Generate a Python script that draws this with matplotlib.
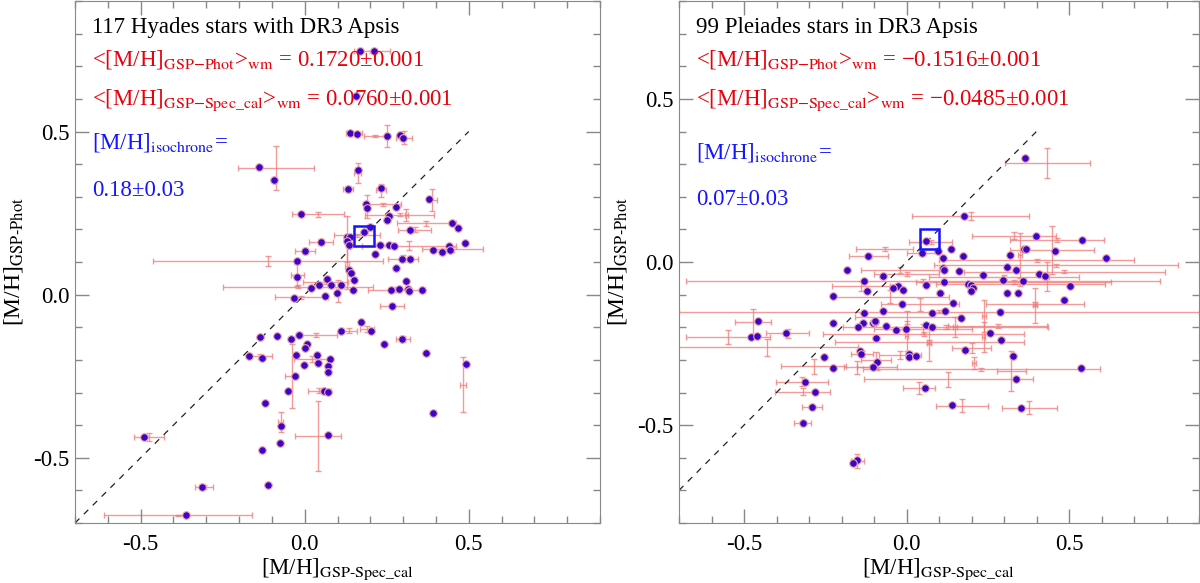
import matplotlib
matplotlib.use("Agg")
import numpy as np
import matplotlib.pyplot as plt
from matplotlib.patches import Rectangle

# ---------------- Hyades (left panel) ----------------
hy_x = [0.170, 0.210, 0.155, 0.139, 0.160, 0.252, 0.290, 0.299, -0.140, -0.094, 0.161,
        0.131, 0.233, 0.379, 0.188, 0.189, 0.279, 0.256, 0.250, -0.010, 0.450, 0.466,
        0.320, 0.200, 0.180, 0.129, 0.139, 0.128, 0.135, 0.051, 0.000, 0.230, 0.257,
        0.272, 0.490, 0.390, 0.419, 0.439, 0.443, 0.213, -0.023, 0.298, 0.320, 0.279,
        -0.022, 0.136, 0.140, 0.149, 0.308, 0.044, 0.067, 0.020, 0.080, 0.110, 0.099,
        0.147, 0.263, 0.286, 0.315, 0.319, 0.359, 0.063, -0.032, 0.266,
        0.171, 0.202, 0.111, 0.298, 0.242, 0.371, 0.491, -0.136, -0.085, -0.043, -0.016,
        0.006, 0.000, -0.170, -0.131, -0.026, 0.036, 0.078, 0.041, -0.003, 0.071, 0.071,
        -0.031, -0.050, 0.060, 0.071, -0.121, -0.073, 0.071, -0.076, -0.130, 0.390,
        -0.490, -0.312, -0.113, -0.361]
hy_y = [0.746, 0.746, 0.610, 0.496, 0.492, 0.486, 0.488, 0.481, 0.392, 0.352, 0.382,
        0.324, 0.327, 0.293, 0.278, 0.264, 0.270, 0.242, 0.229, 0.246, 0.219, 0.204,
        0.199, 0.206, 0.191, 0.177, 0.176, 0.163, 0.152, 0.162, 0.134, 0.153, 0.152,
        0.149, 0.159, 0.137, 0.130, 0.148, 0.137, 0.125, 0.103, 0.109, 0.109, 0.081,
        0.054, 0.077, 0.066, 0.044, 0.042, 0.031, 0.049, 0.020, 0.028, 0.028, 0.006,
        0.013, 0.014, 0.017, 0.018, 0.012, 0.014, -0.004, -0.009, -0.035,
        -0.085, -0.112, -0.110, -0.136, -0.151, -0.180, -0.214, -0.129, -0.126, -0.136, -0.124,
        -0.151, -0.163, -0.189, -0.193, -0.185, -0.185, -0.197, -0.209, -0.215, -0.219, -0.238,
        -0.248, -0.294, -0.294, -0.298, -0.331, -0.402, -0.429, -0.455, -0.476, -0.364,
        -0.436, -0.590, -0.583, -0.677]

# error bars (centre x, centre y, x error, y error)
hy_ex = [0.205, 0.150, 0.214, 0.250, 0.302, -0.087, 0.161, 0.131, 0.233, 0.388, 0.189,
         0.240, 0.290, 0.310, 0.041, 0.128, 0.370, 0.335, 0.160, 0.050, 0.000, 0.317,
         0.450, -0.112, 0.300, -0.022, 0.128, 0.064, -0.020, 0.280, -0.010, 0.266, 0.100,
         0.035, 0.134, 0.190, 0.300, 0.021, -0.137, -0.040, 0.045, -0.073, 0.041, 0.482,
         -0.475, -0.307, -0.386]
hy_ey = [0.746, 0.494, 0.486, 0.486, 0.481, 0.389, 0.372, 0.324, 0.320, 0.290, 0.270,
         0.277, 0.245, 0.245, 0.246, 0.170, 0.219, 0.199, 0.182, 0.162, 0.134, 0.150,
         0.139, 0.103, 0.110, 0.060, 0.087, 0.039, 0.024, 0.015, -0.008, -0.035, 0.011,
         -0.124, -0.110, -0.105, -0.136, -0.197, -0.189, -0.250, -0.294, -0.390, -0.434, -0.276,
         -0.436, -0.590, -0.677]
hy_exe = [0.056, 0.025, 0.034, 0.006, 0.025, 0.116, 0.012, 0.015, 0.015, 0.015, 0.006,
          0.052, 0.105, 0.004, 0.080, 0.006, 0.090, 0.050, 0.070, 0.037, 0.030, 0.143,
          0.093, 0.350, 0.045, 0.020, 0.006, 0.069, 0.228, 0.087, 0.082, 0.036, 0.004,
          0.062, 0.025, 0.022, 0.022, 0.055, 0.037, 0.020, 0.034, 0.008, 0.071, 0.010,
          0.046, 0.027, 0.226]
hy_eye = [0.004, 0.006, 0.004, 0.033, 0.020, 0.067, 0.031, 0.008, 0.020, 0.033, 0.035,
          0.004, 0.004, 0.018, 0.008, 0.070, 0.008, 0.008, 0.004, 0.010, 0.008, 0.014,
          0.008, 0.014, 0.010, 0.035, 0.069, 0.006, 0.004, 0.008, 0.004, 0.004, 0.033,
          0.006, 0.008, 0.010, 0.010, 0.010, 0.008, 0.099, 0.008, 0.031, 0.108, 0.085,
          0.012, 0.006, 0.003]

# ---------------- Pleiades (right panel) ----------------
pl_x = [-0.457, -0.478, -0.461, -0.371, -0.227, -0.135, -0.150, -0.102, -0.097, -0.062,
        -0.032, 0.059, 0.078, 0.258, 0.290, -0.093, 0.181, 0.328, -0.143, -0.141,
        0.008, 0.008, 0.029, -0.254, -0.227, -0.090, -0.102, 0.537, 0.338, 0.058,
        -0.312, -0.281, 0.140, 0.353, -0.291, -0.319, -0.152, -0.164,
        0.059, 0.048, 0.096, -0.117, -0.184, -0.072, -0.132, -0.026, -0.043, -0.012,
        0.060, -0.122, -0.227, -0.013, -0.072, -0.132, 0.079, -0.096, -0.003,
        0.364, 0.178, 0.398, 0.539, 0.138, 0.361, 0.368, 0.457, 0.112, 0.173, 0.317,
        0.615, 0.111, 0.116, 0.163, 0.308, 0.336, 0.235, 0.408, 0.427, 0.298, 0.358,
        0.115, 0.189, 0.198, 0.206, 0.198, 0.503, 0.103, 0.308, 0.344, 0.485, 0.144,
        0.117, 0.287, 0.167]
pl_y = [-0.182, -0.229, -0.226, -0.219, -0.187, -0.188, -0.200, -0.188, -0.184, -0.196,
        -0.209, -0.193, -0.198, -0.219, -0.238, -0.234, -0.269, -0.287, -0.272, -0.282,
        -0.281, -0.290, -0.287, -0.290, -0.326, -0.308, -0.322, -0.325, -0.360, -0.387,
        -0.368, -0.397, -0.439, -0.446, -0.444, -0.495, -0.607, -0.616,
        0.063, 0.029, 0.035, 0.018, -0.025, -0.044, -0.057, -0.075, -0.080, -0.086,
        -0.072, -0.090, -0.104, -0.129, -0.151, -0.157, -0.157, -0.182, -0.206,
        0.318, 0.141, 0.079, 0.067, 0.041, 0.041, 0.041, 0.034, 0.013, 0.018, 0.021,
        0.011, -0.019, -0.026, -0.028, -0.014, -0.025, -0.040, -0.036, -0.042, -0.054, -0.057,
        -0.061, -0.068, -0.069, -0.081, -0.088, -0.074, -0.096, -0.096, -0.094, -0.118, -0.126,
        -0.150, -0.152, -0.171]

pl_ex = [0.433, 0.198, 0.330, 0.447, 0.464, 0.350, 0.074, -0.067, -0.116, 0.050,
         0.400, 0.460, 0.486, 0.300, 0.050, 0.330, 0.350, -0.020, 0.000, -0.140,
         -0.050, 0.040, 0.000, 0.050, 0.395, 0.394, 0.432, 0.238, 0.100, 0.280,
         -0.550, -0.472, -0.430, -0.365, 0.053, 0.237, 0.070, 0.120, 0.000, 0.070,
         0.149, 0.201, -0.137, -0.020, 0.323, -0.286, 0.230, 0.207, 0.128, -0.151,
         -0.090, -0.094, 0.038, -0.322, -0.320, 0.171, 0.378, -0.291, -0.320, -0.152]
pl_ey = [0.304, 0.141, 0.081, 0.036, 0.067, 0.020, 0.060, 0.041, 0.018, 0.028,
         0.005, -0.010, -0.030, -0.047, -0.057, -0.060, -0.067, -0.025, -0.038, -0.074,
         -0.106, -0.130, -0.170, -0.205, -0.129, -0.133, -0.045, -0.166, -0.152, -0.197,
         -0.229, -0.185, -0.262, -0.219, -0.221, -0.230, -0.246, -0.198, -0.228, -0.248,
         -0.200, -0.264, -0.282, -0.286, -0.335, -0.320, -0.329, -0.310, -0.360, -0.323,
         -0.322, -0.300, -0.387, -0.367, -0.397, -0.440, -0.447, -0.444, -0.495, -0.610]
pl_exe = [0.131, 0.180, 0.130, 0.130, 0.145, 0.006, 0.066, 0.087, 0.060, 0.050,
          0.300, 0.375, 0.310, 0.230, 0.730, 0.300, 0.260, 0.120, 0.100, 0.090,
          0.180, 0.120, 0.160, 0.150, 0.150, 0.006, 0.006, 0.006, 0.800, 0.153,
          0.130, 0.055, 0.280, 0.066, 0.310, 0.006, 0.290, 0.315, 0.006, 0.006,
          0.006, 0.060, 0.035, 0.065, 0.045, 0.100, 0.365, 0.006, 0.260, 0.040,
          0.062, 0.045, 0.050, 0.081, 0.086, 0.080, 0.085, 0.030, 0.026, 0.020]
pl_eye = [0.045, 0.011, 0.010, 0.073, 0.006, 0.070, 0.006, 0.006, 0.006, 0.006,
          0.004, 0.004, 0.004, 0.006, 0.004, 0.006, 0.006, 0.010, 0.006, 0.015,
          0.020, 0.020, 0.020, 0.015, 0.006, 0.053, 0.045, 0.049, 0.004, 0.006,
          0.022, 0.040, 0.025, 0.015, 0.006, 0.045, 0.006, 0.006, 0.046, 0.055,
          0.030, 0.015, 0.008, 0.012, 0.061, 0.023, 0.004, 0.018, 0.024, 0.020,
          0.010, 0.024, 0.018, 0.014, 0.010, 0.020, 0.020, 0.006, 0.006, 0.020]

titles = ["117 Hyades stars with DR3 Apsis", "99 Pleiades stars in DR3 Apsis"]
phot_wm = ["0.1720", "\u22120.1516"]
spec_wm = ["0.0760", "\u22120.0485"]
wm_err = "0.001"
iso_mh = [0.18, 0.07]
iso_err = [0.03, 0.03]
x_lims = [(-0.7, 0.9), (-0.7, 0.9)]
y_lims = [(-0.7, 0.9), (-0.8, 0.8)]
diag_ends = [0.5, 0.4]

plt.rcParams["font.family"] = ["Liberation Serif", "DejaVu Serif"]
plt.rcParams["mathtext.fontset"] = "stix"

RED = "#e8000b"
BLUE = "#1414ff"
ERR = "#f07a7a"
DOT = "#3a06c8"

fig = plt.figure(figsize=(12, 5.83), dpi=100)
ax_l = fig.add_axes([75 / 1200, 1 - 523 / 583, 525 / 1200, 522 / 583])
ax_r = fig.add_axes([679 / 1200, 1 - 523 / 583, 520 / 1200, 522 / 583])

panels = [
    (ax_l, hy_x, hy_y, hy_ex, hy_ey, hy_exe, hy_eye),
    (ax_r, pl_x, pl_y, pl_ex, pl_ey, pl_exe, pl_eye),
]
iso_text_y = [(0.717, 0.627), (0.698, 0.610)]
MINUS_SUB = "\\text{\u2212}"

for i, (ax, x, y, ex, ey, exe, eye) in enumerate(panels):
    ax.errorbar(ex, ey, xerr=exe, yerr=eye, fmt="none", ecolor=ERR,
                elinewidth=1.0, capsize=2.5, capthick=1.0, alpha=0.75, zorder=1)
    ax.plot(x, y, "o", ms=5.5, mfc=DOT, mec="#f4a6a6", mew=0.8, zorder=3)

    lo = x_lims[i][0]
    ax.plot([lo, diag_ends[i]], [lo, diag_ends[i]], color="#222222", lw=0.9,
            ls=(0, (5, 5)), zorder=2)

    s = iso_err[i]
    ax.add_patch(Rectangle((iso_mh[i] - s, iso_mh[i] - s), 2 * s, 2 * s,
                           fill=False, ec=BLUE, lw=1.8, zorder=4))

    ax.set_xlim(*x_lims[i])
    ax.set_ylim(*y_lims[i])
    ax.set_xticks([-0.5, 0.0, 0.5])
    ax.set_yticks([-0.5, 0.0, 0.5])
    ax.set_xticklabels(["-0.5", "0.0", "0.5"])
    ax.set_yticklabels(["-0.5", "0.0", "0.5"])
    ax.xaxis.set_minor_locator(matplotlib.ticker.MultipleLocator(0.1))
    ax.yaxis.set_minor_locator(matplotlib.ticker.MultipleLocator(0.1))
    ax.tick_params(which="both", direction="in", top=True, right=True,
                   color="#888888", labelsize=16.5)
    ax.tick_params(axis="x", pad=8)
    ax.tick_params(axis="y", pad=4)
    ax.tick_params(which="major", length=10, width=1)
    ax.tick_params(which="minor", length=5, width=1)
    for sp in ax.spines.values():
        sp.set_color("#888888")

    ax.set_xlabel(r"[M/H]$_{\rm GSP\text{-}Spec\_cal}$", fontsize=16.5, labelpad=1)
    ax.set_ylabel(r"[M/H]$_{\rm GSP\text{-}Phot}$", fontsize=17, labelpad=6)

    tx = 0.032
    ax.text(tx, 0.939, titles[i], transform=ax.transAxes, fontsize=16.5,
            color="black", va="baseline")
    ax.text(tx, 0.876,
            r"<[M/H]$_{\rm GSP" + MINUS_SUB + r"Phot}$>$_{\rm wm}$ = " + phot_wm[i] + "\u00b1" + wm_err,
            transform=ax.transAxes, fontsize=16.5, color=RED, va="baseline")
    ax.text(tx, 0.801,
            r"<[M/H]$_{\rm GSP" + MINUS_SUB + r"Spec\_cal}$>$_{\rm wm}$ = " + spec_wm[i] + "\u00b1" + wm_err,
            transform=ax.transAxes, fontsize=16.5, color=RED, va="baseline")
    ax.text(tx, iso_text_y[i][0], r"[M/H]$_{\rm isochrone}$=", transform=ax.transAxes,
            fontsize=16.5, color=BLUE, va="baseline")
    ax.text(tx, iso_text_y[i][1], f"{iso_mh[i]:.2f}\u00b1{iso_err[i]:.2f}",
            transform=ax.transAxes, fontsize=16.5, color=BLUE, va="baseline")

fig.savefig("out.png", dpi=100)
